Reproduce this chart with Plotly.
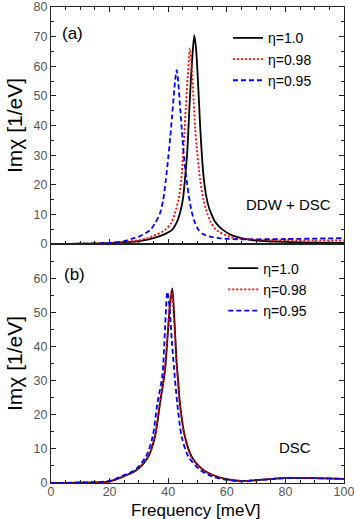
import plotly.graph_objects as go
from plotly.subplots import make_subplots

# ---------- Panel (a): DDW + DSC ----------
freq_a_10 = [0, 10, 20, 25, 30, 35, 38, 41.2, 43, 44, 45, 45.7, 46.5, 47.0, 47.5, 48.1, 48.9,
             49.5, 50.0, 50.5, 51.0, 51.5, 52, 53, 54, 54.8, 56, 57.5, 58.8, 61, 63.4, 67, 70,
             80, 90, 100]
imchi_a_10 = [0, 0.1, 0.3, 0.6, 1.0, 2.0, 3.0, 4.7, 7.5, 10.4, 15, 21.7, 31, 41, 51, 61, 70.5,
              66, 58, 48, 38, 30, 23.5, 16, 12, 10, 7.5, 5.8, 4.7, 3.3, 2.4, 1.6, 1.2,
              0.7, 0.5, 0.4]

freq_a_098 = [0, 10, 20, 25, 30, 32.7, 35, 38.9, 41, 42.3, 43.5, 44.4, 45.0, 45.5, 46, 46.7, 47.4,
              48, 48.7, 49.2, 49.7, 50.9, 52, 53.3, 54.5, 56.5, 61.1, 65, 70, 80, 90, 100]
imchi_a_098 = [0, 0.1, 0.4, 0.7, 1.3, 1.9, 2.8, 4.7, 7, 10.4, 15, 21, 29, 37, 46, 57, 66,
               60, 48, 39, 33, 21.7, 15, 10.4, 7.5, 4.7, 2.4, 1.8, 1.5, 1.3, 1.2, 1.2]

freq_a_095 = [0, 10, 20, 25, 28, 30, 33.8, 35.5, 37.2, 38.3, 39.2, 40.0, 40.7, 41.3, 41.9, 42.4,
              42.9, 43.4, 44, 44.9, 45.5, 46.3, 47, 48, 49, 50.2, 52, 54.3, 58, 65, 80, 100]
imchi_a_095 = [0, 0.1, 0.4, 1.0, 1.9, 2.5, 4.7, 7, 10.4, 15, 21.7, 29, 36, 43, 50, 55.5,
               58.7, 55, 47, 35.3, 28, 21.5, 16.5, 11, 7.5, 5, 3.3, 2.5, 1.9, 1.6, 1.7, 2.0]

# ---------- Panel (b): DSC ----------
freq_b_10 = [0, 10, 20, 24.7, 29.2, 33.2, 35.5, 37.2, 38.9, 39.8, 40.6, 41.4,
             42.1, 42.9, 43.4, 44, 45.7, 48, 52, 56.6, 60, 65, 70, 80, 90, 100]
imchi_b_10 = [0, 0.1, 0.5, 1.9, 3.8, 7.7, 13.6, 23.3, 33, 43, 52, 57,
              48, 35, 30, 23.3, 13.6, 7.7, 3.8, 1.9, 1.1, 0.6, 0.8, 1.5, 1.4, 1.2]

freq_b_098 = [0, 10, 20, 24.6, 29.1, 33.1, 35.4, 37.1, 38.8, 39.7, 40.5, 41.2,
              42.0, 42.8, 43.3, 43.9, 45.6, 47.9, 51.9, 56.5, 60, 65, 70, 80, 90, 100]
imchi_b_098 = [0, 0.1, 0.5, 1.9, 3.8, 7.7, 13.6, 23.3, 33, 43, 52, 56.3,
               48, 35, 30, 23.3, 13.6, 7.7, 3.8, 1.9, 1.1, 0.6, 0.8, 1.5, 1.4, 1.2]

freq_b_095 = [0, 10, 20, 24, 28.6, 32.4, 34.7, 36.3, 38, 38.9, 39.7,
              40.5, 41.2, 42.0, 43.1, 44.6, 46.9, 50.9, 55, 60, 65, 70, 80, 90, 100]
imchi_b_095 = [0, 0.15, 0.6, 2.0, 3.8, 7.7, 13.6, 23.3, 31.5, 45, 56,
               51, 42, 33.5, 23.3, 13.6, 7.7, 3.8, 1.9, 0.9, 0.5, 0.8, 1.4, 1.4, 1.2]

labels = ["η=1.0", "η=0.98", "η=0.95"]
colors = ["#000000", "#ff0000", "#0000ff"]
dashes = ["solid", "2px,2px", "5px,3px"]
ytick_a = [0, 10, 20, 30, 40, 50, 60, 70, 80]
ytick_b = [0, 10, 20, 30, 40, 50, 60]

FONT = "Liberation Sans, Arial, Helvetica, sans-serif"

fig = make_subplots(rows=2, cols=1, shared_xaxes=False, vertical_spacing=0,
                    row_heights=[0.498, 0.502])

series_a = [(freq_a_10, imchi_a_10), (freq_a_098, imchi_a_098), (freq_a_095, imchi_a_095)]
series_b = [(freq_b_10, imchi_b_10), (freq_b_098, imchi_b_098), (freq_b_095, imchi_b_095)]

for (fx, fy), lab, col, d in zip(series_a, labels, colors, dashes):
    fig.add_trace(go.Scatter(x=fx, y=fy, mode="lines", name=lab,
                             line=dict(color=col, width=1.8, dash=d, shape="spline", smoothing=0.8),
                             legend="legend"), row=1, col=1)
for (fx, fy), lab, col, d in zip(series_b, labels, colors, dashes):
    fig.add_trace(go.Scatter(x=fx, y=fy, mode="lines", name=lab,
                             line=dict(color=col, width=1.8, dash=d, shape="spline", smoothing=0.8),
                             legend="legend2"), row=2, col=1)

axis_common = dict(showline=True, linecolor="#222", linewidth=1, ticks="inside",
                   ticklen=5, tickwidth=1, tickcolor="#222", showgrid=False, zeroline=False,
                   automargin=False,
                   tickfont=dict(family=FONT, size=12.5, color="#555"))

fig.update_xaxes(range=[0, 100], dtick=20, mirror="ticks", ticklabeloverflow="allow",
                 minor=dict(dtick=5, ticks="inside", ticklen=3, tickcolor="#222"),
                 **axis_common)
fig.update_xaxes(showticklabels=False, row=1, col=1)
fig.update_xaxes(mirror=True, ticklabelstandoff=-3, row=2, col=1)

ytitle = dict(text="Imχ [1/eV]", font=dict(family=FONT, size=21, color="#000"), standoff=5)
fig.update_yaxes(range=[0, 80], tickmode="array", tickvals=ytick_a, mirror="ticks",
                 minor=dict(dtick=5, ticks="inside", ticklen=3, tickcolor="#222"),
                 title=ytitle, **axis_common, row=1, col=1)
fig.update_yaxes(range=[0, 70], tickmode="array", tickvals=ytick_b, mirror="ticks",
                 minor=dict(dtick=5, ticks="inside", ticklen=3, tickcolor="#222"),
                 title=ytitle, **axis_common, row=2, col=1)

legend_common = dict(font=dict(family=FONT, size=14, color="#000"), bgcolor="rgba(0,0,0,0)",
                     xanchor="left", yanchor="top", itemwidth=30, tracegroupgap=0)
ann_font = dict(family=FONT, size=15, color="#000")
fig.update_layout(
    width=354, height=519,
    margin=dict(l=51, r=10, t=7, b=36, autoexpand=False),
    paper_bgcolor="white", plot_bgcolor="white",
    showlegend=True,
    legend=dict(x=0.604, y=0.968, **legend_common),
    legend2=dict(x=0.588, y=0.484, **legend_common),
    annotations=[
        dict(text="(a)", x=0.075, y=0.945, xref="paper", yref="paper", showarrow=False,
             xanchor="center", yanchor="middle", font=dict(family=FONT, size=17, color="#000")),
        dict(text="(b)", x=0.079, y=0.439, xref="paper", yref="paper", showarrow=False,
             xanchor="center", yanchor="middle", font=dict(family=FONT, size=17, color="#000")),
        dict(text="DDW + DSC", x=0.962, y=0.586, xref="paper", yref="paper", showarrow=False,
             xanchor="right", yanchor="middle", font=ann_font),
        dict(text="DSC", x=0.894, y=0.0756, xref="paper", yref="paper", showarrow=False,
             xanchor="right", yanchor="middle", font=ann_font),
        dict(text="Frequency [meV]", x=0.492, y=-0.0576, xref="paper", yref="paper",
             showarrow=False, xanchor="center", yanchor="middle", borderpad=0,
             font=dict(family=FONT, size=17, color="#000")),
    ],
)

fig.write_html("out.html", config={"displayModeBar": False},
               post_script="document.body.style.margin='0px';")
